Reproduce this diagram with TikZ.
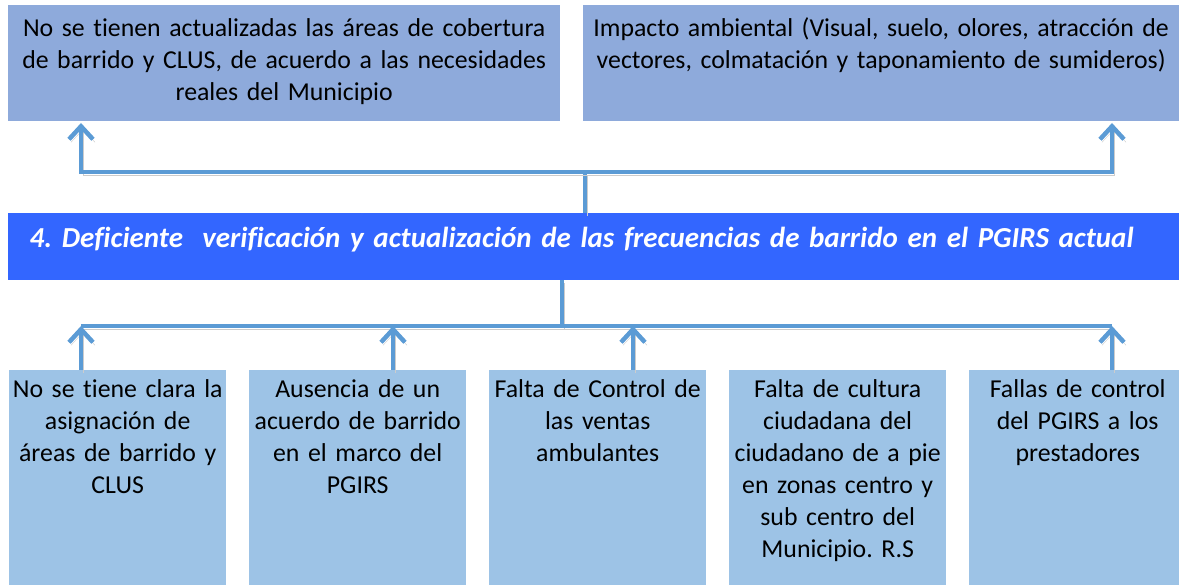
\documentclass[tikz,border=0pt]{standalone}
\usepackage{fontspec}
\setmainfont{Carlito}[RawFeature={-liga;-dlig;-calt;-clig}]
\usetikzlibrary{arrows.meta}
\definecolor{efecto}{HTML}{8EAADB}
\definecolor{causa}{HTML}{9DC3E6}
\definecolor{problema}{HTML}{3366FF}
\definecolor{linea}{HTML}{5B9BD5}
\frenchspacing
\begin{document}
\begin{tikzpicture}[x=1pt,y=-1pt,
    caja/.style={inner xsep=0pt, inner ysep=12pt, align=center, anchor=north west,
      font=\fontsize{25.8}{32}\selectfont, text height=19pt},
    efectobox/.style={caja, fill=efecto, text depth=73pt},
    causabox/.style={caja, fill=causa, inner ysep=8pt, text depth=182pt, text width=217pt},
    sombra/.style={preaction={draw=black!20, transform canvas={shift={(2,3)}}}},
    conector/.style={draw=linea, line width=4.5pt, sombra},
    flecha/.style={conector, -{Straight Barb[length=13pt,width=24pt]}}]
    \useasboundingbox (0,0) rectangle (1179,585);

    % efectos
    \node[efectobox, text width=552pt] (efecto1) at (8,5)
      {No se tienen actualizadas las áreas de cobertura\\ de barrido y CLUS, de acuerdo a las necesidades\\ reales del Municipio};
    \node[efectobox, text width=596pt] (efecto2) at (583,5)
      {Impacto ambiental (Visual, suelo, olores, atracción de\\ vectores, colmatación y taponamiento de sumideros)};

    % problema central
    \node[caja, fill=problema, text=white, text width=1171pt, inner ysep=15pt, text depth=18pt,
      font=\fontsize{29}{32}\selectfont\bfseries\itshape] (problema) at (8,213)
      {\hspace*{-24pt}4. Deficiente\ \ verificación y actualización de las frecuencias de barrido en el PGIRS actual};

    % causas
    \node[causabox] (causa1) at (9,370) {No se tiene clara la\\ asignación de\\ áreas de barrido y\\ CLUS};
    \node[causabox] (causa2) at (249,370) {Ausencia de un\\ acuerdo de barrido\\ en el marco del\\ PGIRS};
    \node[causabox] (causa3) at (489,370) {Falta de Control de\\ las ventas\\ ambulantes};
    \node[causabox] (causa4) at (729,370) {Falta de cultura\\ ciudadana del\\ ciudadano de a pie\\ en zonas centro y\\ sub centro del\\ Municipio. R.S};
    \node[causabox] (causa5) at (969,370) {Fallas de control\\ del PGIRS a los\\ prestadores};

    % conectores superiores
    \coordinate (J) at (585,172);
    \coordinate (E1) at (81,123); \coordinate (E2) at (1112,123);
    \draw[conector] (problema.north -| J) -- (J);
    \draw[flecha] (J) -| (E1);
    \draw[flecha] (J) -| (E2);

    % conectores inferiores
    \coordinate (K) at (562,326);
    \foreach \n/\x in {1/81,2/393,3/633,5/1112} \coordinate (C\n) at (\x,326);
    \draw[conector] (problema.south -| K) -- (K);
    \draw[conector] (C1) -- (C5);
    \foreach \n in {1,2,3,5} \draw[flecha] (C\n |- causa\n.north) -- (C\n);
\end{tikzpicture}
\end{document}
